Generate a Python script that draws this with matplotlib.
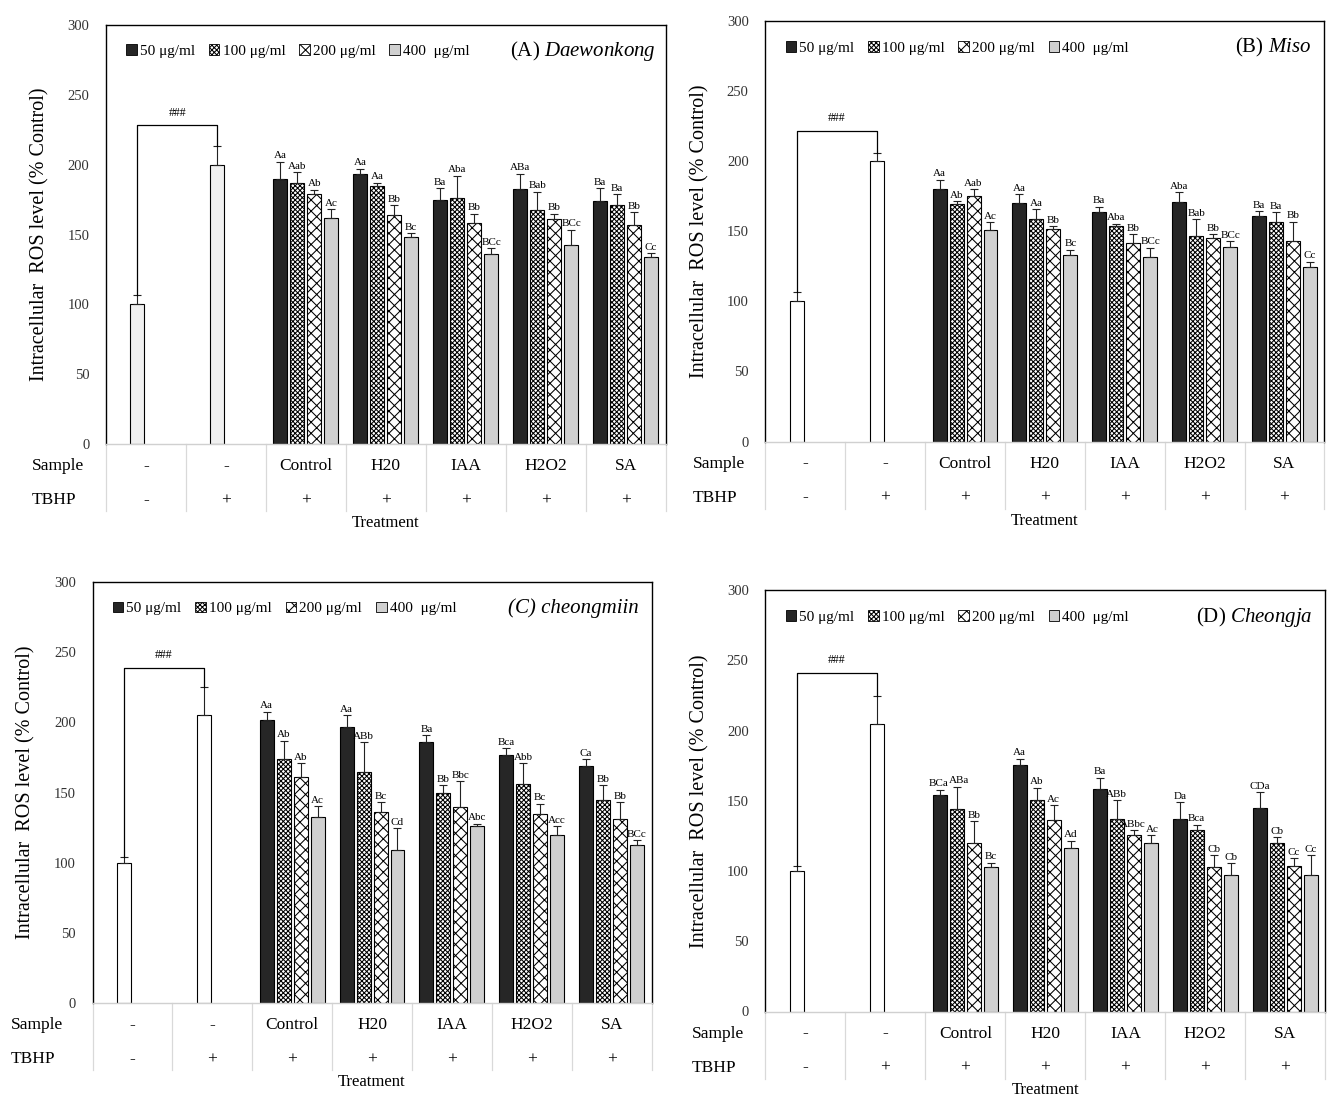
import matplotlib
matplotlib.use("Agg")
import matplotlib.pyplot as plt
from matplotlib.patches import Patch
from matplotlib.transforms import ScaledTranslation
import numpy as np

plt.rcParams['font.family'] = ['Liberation Serif', 'DejaVu Serif']
plt.rcParams['mathtext.fontset'] = 'custom'
plt.rcParams['mathtext.rm'] = 'Liberation Serif'
plt.rcParams['mathtext.it'] = 'Liberation Serif:italic'
plt.rcParams['hatch.linewidth'] = 0.75

# ---------------- data ----------------
sample_labels = ["-", "-", "Control", "H20", "IAA", "H2O2", "SA"]
tbhp_labels = ["-", "+", "+", "+", "+", "+", "+"]
series_names = ["50 \u03bcg/ml", "100 \u03bcg/ml", "200 \u03bcg/ml", "400  \u03bcg/ml"]
panel_titles = ["(A) $\\mathit{Daewonkong}$", "(B) $\\mathit{Miso}$",
                "(C) cheongmiin", "(D) $\\mathit{Cheongja}$"]
title_styles = ["normal", "normal", "italic", "normal"]

# Panel A
a_ctrl = [100, 200]
a_ctrl_err = [7, 13]
a_vals = [[190, 193, 175, 182.5, 174],
          [186.5, 185, 176, 167.5, 171],
          [179, 164, 158, 161, 157],
          [162, 148, 136, 142.5, 134]]
a_errs = [[12, 4, 8, 11, 9],
          [8, 2, 16, 13, 8],
          [3, 7, 7, 4, 9],
          [6, 3, 4, 11, 2.5]]
a_letters = [["Aa", "Aa", "Ba", "ABa", "Ba"],
             ["Aab", "Aa", "Aba", "Bab", "Ba"],
             ["Ab", "Bb", "Bb", "Bb", "Bb"],
             ["Ac", "Bc", "BCc", "BCc", "Cc"]]

# Panel B
b_ctrl = [100, 200]
b_ctrl_err = [7, 6]
b_vals = [[180, 170, 163.5, 171, 161],
          [169.5, 159, 154, 146.5, 156.5],
          [175, 152, 142, 145, 143],
          [151, 133, 131.5, 139, 124.5]]
b_errs = [[7, 6.5, 4, 7, 3.5],
          [2, 7, 1.5, 12, 7],
          [5, 1.5, 6, 3, 14],
          [5.5, 4, 7, 4, 4]]
b_letters = [["Aa", "Aa", "Ba", "Aba", "Ba"],
             ["Ab", "Aa", "Aba", "Bab", "Ba"],
             ["Aab", "Bb", "Bb", "Bb", "Bb"],
             ["Ac", "Bc", "BCc", "BCc", "Cc"]]

# Panel C
c_ctrl = [100, 205]
c_ctrl_err = [4, 20]
c_vals = [[202, 196.5, 186, 176.5, 169],
          [174, 165, 149.5, 156.5, 145],
          [161, 136, 139.5, 134.5, 131],
          [132.5, 109, 126, 119.5, 112.5]]
c_errs = [[5.5, 8.5, 5, 5, 5],
          [13, 21, 6, 14.5, 10.5],
          [10, 7, 18.5, 7.5, 12],
          [8, 15.5, 2, 6.5, 3.5]]
c_letters = [["Aa", "Aa", "Ba", "Bca", "Ca"],
             ["Ab", "ABb", "Bb", "Abb", "Bb"],
             ["Ab", "Bc", "Bbc", "Bc", "Bb"],
             ["Ac", "Cd", "Abc", "Acc", "BCc"]]

# Panel D
d_ctrl = [100, 205]
d_ctrl_err = [3.5, 20]
d_vals = [[154, 175.5, 158.5, 137, 145],
          [144.5, 150.5, 137, 129, 120],
          [120, 136.5, 125.5, 103, 103.5],
          [103, 116.5, 120, 97, 97]]
d_errs = [[4, 4.5, 8, 12, 11],
          [15.5, 9, 13.5, 4, 4],
          [15.5, 10.5, 3.5, 8.5, 5.5],
          [3, 5, 5.5, 8.5, 14.5]]
d_letters = [["BCa", "Aa", "Ba", "Da", "CDa"],
             ["ABa", "Ab", "ABb", "Bca", "Cb"],
             ["Bb", "Ac", "ABbc", "Cb", "Cc"],
             ["Bc", "Ad", "Ac", "Cb", "Cc"]]

bracket_y = [228, 222, 239, 241]

# ---------------- layout / styles ----------------
W, H = 1344, 1116
fig = plt.figure(figsize=(W / 100, H / 100), dpi=100)
renderer = fig.canvas.get_renderer()

# axes boxes in pixels: left, top, right, bottom
boxes = [(106, 24.8, 665.5, 444.2), (765.4, 21.3, 1324.4, 441.5),
         (92.6, 582, 651.5, 1003.3), (765.4, 590.2, 1325.2, 1011.5)]
sample_x = [32, 693, 11, 692]
ylab_x = [40, 700, 26, 700]
title_x = [0.983, 0.976, 0.978, 0.977]
ctrl_colors = ["#f0f0f0", "white", "white", "white"]

s_face = ["#262626", "white", "white", "#d0d0d0"]
s_hatch = [None, "xxxxxxx", "xxx", None]

panels = [(a_ctrl, a_ctrl_err, a_vals, a_errs, a_letters),
          (b_ctrl, b_ctrl_err, b_vals, b_errs, b_letters),
          (c_ctrl, c_ctrl_err, c_vals, c_errs, c_letters),
          (d_ctrl, d_ctrl_err, d_vals, d_errs, d_letters)]

step = 0.2125
bw = 0.175
offsets = [-1.5 * step, -0.5 * step, 0.5 * step, 1.5 * step]

for pi, (ctrl, ctrl_err, vals, errs, letters) in enumerate(panels):
    l, t, r, b = boxes[pi]
    ax = fig.add_axes([l / W, 1 - b / H, (r - l) / W, (b - t) / H])
    hpx = b - t

    ax.set_xlim(-0.5, 6.5)
    ax.set_ylim(0, 300)

    # control bars
    cx = np.arange(2) - 0.5 * step
    ax.bar(cx, ctrl, width=bw, color=ctrl_colors[pi], edgecolor="black", linewidth=0.8, zorder=2)
    ax.errorbar(cx, ctrl, yerr=[np.zeros(2), ctrl_err], fmt="none", ecolor="#222222",
                elinewidth=0.8, capsize=3, capthick=0.8, zorder=3)

    gx = np.arange(2, 7)
    group_texts = [[] for _ in range(5)]
    for si in range(4):
        xs = gx + offsets[si]
        ax.bar(xs, vals[si], width=bw, color=s_face[si], edgecolor="black",
               hatch=s_hatch[si], linewidth=0.8, zorder=2)
        ax.errorbar(xs, vals[si], yerr=[np.zeros(5), errs[si]], fmt="none", ecolor="#222222",
                    elinewidth=0.8, capsize=3, capthick=0.8, zorder=3)
        for gi, (x, v, e, lab) in enumerate(zip(xs, vals[si], errs[si], letters[si])):
            tx = ax.text(x, v + e + 1.0, lab, ha="center", va="bottom", fontsize=8, zorder=4)
            group_texts[gi].append(tx)

    # nudge neighbouring letter labels apart horizontally if they collide
    for texts in group_texts:
        shifts = [0.0] * len(texts)
        for j in range(1, len(texts)):
            b0 = texts[j - 1].get_window_extent(renderer)
            b1 = texts[j].get_window_extent(renderer)
            x0_end = b0.x1 + shifts[j - 1]
            if b1.y0 < b0.y1 and b0.y0 < b1.y1 and b1.x0 < x0_end + 0.5:
                ov = x0_end + 0.5 - b1.x0
                shifts[j - 1] -= ov / 2
                shifts[j] += ov / 2
        for tx, s in zip(texts, shifts):
            if s != 0:
                tx.set_transform(ax.transData + ScaledTranslation(s / 100, 0, fig.dpi_scale_trans))

    # significance bracket
    yb = bracket_y[pi]
    ax.plot([cx[0], cx[0], cx[1], cx[1]],
            [ctrl[0] + ctrl_err[0], yb, yb, ctrl[1] + ctrl_err[1]],
            color="black", linewidth=0.9, zorder=3)
    ax.text(cx.mean(), yb + 9, "###", ha="center", va="center", fontsize=8.5)

    ax.set_yticks(np.arange(0, 301, 50))
    ax.tick_params(axis="y", length=0, pad=12, labelsize=10.5, labelcolor="#333333")
    ax.set_xticks([])
    for sp in ["left", "top", "right"]:
        ax.spines[sp].set_color("black")
        ax.spines[sp].set_linewidth(1.0)
    ax.spines["bottom"].set_color("#d0d0d0")
    ax.spines["bottom"].set_linewidth(1.0)

    # legend
    handles = [Patch(facecolor=s_face[i], edgecolor="black", hatch=s_hatch[i], linewidth=0.6)
               for i in range(4)]
    ax.legend(handles, series_names, loc="center left", bbox_to_anchor=(0.036, 0.937),
              ncol=4, frameon=False, fontsize=11, handlelength=0.7, handleheight=0.7,
              handletextpad=0.2, columnspacing=0.9, borderpad=0, borderaxespad=0)

    # title
    ax.text(title_x[pi], 0.937, panel_titles[pi], transform=ax.transAxes, ha="right",
            va="center", fontsize=15, fontstyle=title_styles[pi])

    # table below
    xt = ax.get_xaxis_transform()
    for k in range(8):
        ax.plot([k - 0.5, k - 0.5], [0, -67 / hpx], transform=xt, color="#d9d9d9",
                linewidth=0.9, clip_on=False)
    for k in range(7):
        ax.text(k, -22 / hpx, sample_labels[k], transform=xt, ha="center", va="center",
                fontsize=12.5)
        ax.text(k, -56 / hpx, tbhp_labels[k], transform=xt, ha="center", va="center",
                fontsize=12.5)
    ax.text(0.5, -79 / hpx, "Treatment", transform=ax.transAxes, ha="center", va="center",
            fontsize=12)
    fig.text(sample_x[pi] / W, 1 - (b + 22) / H, "Sample", ha="left", va="center", fontsize=12.5)
    fig.text(sample_x[pi] / W, 1 - (b + 56) / H, "TBHP", ha="left", va="center", fontsize=12.5)
    fig.text(ylab_x[pi] / W, 1 - (t + b) / 2 / H, "Intracellular  ROS level (% Control)",
             rotation=90, ha="center", va="center", fontsize=14.5)

fig.savefig("out.png", dpi=100)
